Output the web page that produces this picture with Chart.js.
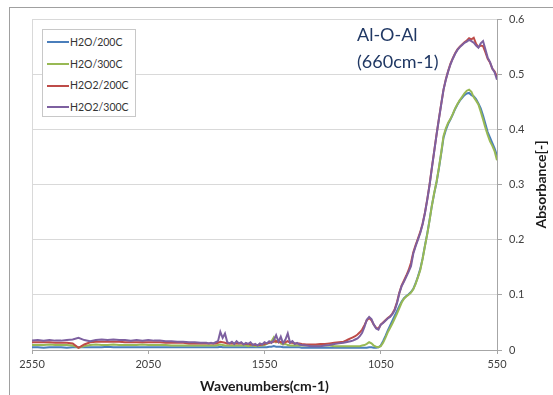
<!DOCTYPE html>
<html><head><meta charset="utf-8">
<script src="https://cdn.jsdelivr.net/npm/chart.js@4.4.1/dist/chart.umd.min.js"></script>
<style>
html,body{margin:0;padding:0;background:#fff;}
#wrap{position:relative;width:553px;height:395px;overflow:hidden;font-family:Lato,"Open Sans",sans-serif;}
#frame{position:absolute;left:9px;top:7px;width:560px;height:400px;border:1px solid #a0a0a0;box-sizing:border-box;}
canvas{position:absolute;left:0;top:0;}
#legend{position:absolute;left:42px;top:29px;width:94px;height:88px;border:1px solid #c8c8c8;background:#fff;box-sizing:border-box;}
.li{position:absolute;left:4px;height:14px;font-size:10.5px;color:#333;line-height:14px;white-space:nowrap;}
.li span.sw{display:inline-block;width:22px;height:2px;vertical-align:middle;margin-right:1px;position:relative;top:-1px;}
#note{position:absolute;left:357px;top:21px;font-size:18px;line-height:27px;color:#203864;}
</style></head>
<body>
<div id="wrap">
<div id="frame"></div>
<canvas id="c" width="553" height="395"></canvas>
<div id="legend"></div>
<div id="note">Al-O-Al<br>(660cm-1)</div>
</div>
<script>
const wavenumbers = [
2550,2525,2500,2475,2450,2425,2400,2375,2350,2325,2300,2275,2250,2225,2200,2175,2150,2125,2100,2075,2050,2025,2000,1975,1950,1925,1900,1875,1850,1825,
1800,1790,1780,1770,1760,1750,1740,1730,1720,1710,1700,1690,1680,1670,1660,1650,1640,1630,1620,1610,1600,1590,1580,1570,1560,1550,1540,1530,1520,1510,1500,1490,1480,1470,1460,1450,1440,1430,1420,1410,1400,
1390,1370,1350,1330,1310,1290,1270,1250,1230,
1210,1200,1190,1180,1170,1160,1150,1140,1130,1120,1110,1100,1090,1080,1070,1060,1050,1040,1030,1020,1010,1000,990,980,970,960,950,940,930,920,910,900,890,880,870,860,850,840,830,820,810,800,790,780,770,760,750,740,730,720,710,700,690,680,670,660,650,640,630,620,610,600,590,580,570,560,550];

const seriesNames = ["H2O/200C","H2O/300C","H2O2/200C","H2O2/300C"];
const seriesColors = ["#4A7EBB","#98B954","#BE4B48","#7D60A0"];

const h2o200 = [
0.005,0.005,0.004,0.005,0.005,0.005,0.004,0.005,0.005,0.005,0.005,0.005,0.005,0.006,0.005,0.005,0.005,0.005,0.005,0.005,0.005,0.005,0.005,0.005,0.005,0.005,0.005,0.005,0.005,0.005,
0.005,0.005,0.005,0.005,0.005,0.005,0.006,0.005,0.005,0.005,0.005,0.005,0.005,0.005,0.005,0.005,0.005,0.005,0.005,0.005,0.005,0.005,0.005,0.005,0.005,0.005,0.005,0.006,0.006,0.007,0.006,0.006,0.006,0.005,0.005,0.005,0.005,0.005,0.005,0.005,0.005,
0.004,0.004,0.004,0.004,0.004,0.004,0.004,0.004,0.004,
0.004,0.004,0.004,0.004,0.004,0.004,0.004,0.004,0.004,0.004,
0.004,0.005,0.005,0.004,0.004,0.005,0.008,0.016,0.025,0.035,
0.044,0.053,0.062,0.071,0.080,0.088,0.094,0.098,0.101,0.105,
0.111,0.121,0.133,0.147,0.166,0.189,0.211,0.236,0.262,0.284,
0.304,0.329,0.356,0.385,0.399,0.410,0.418,0.427,0.437,0.445,
0.452,0.457,0.462,0.465,0.466,0.462,0.460,0.455,0.447,0.438,
0.425,0.410,0.395,0.385,0.375,0.365,0.352];

const h2o300 = [
0.009,0.009,0.009,0.010,0.009,0.009,0.009,0.008,0.004,0.007,0.009,0.010,0.009,0.009,0.010,0.009,0.009,0.009,0.009,0.010,0.009,0.009,0.009,0.009,0.008,0.008,0.008,0.008,0.008,0.008,
0.008,0.008,0.008,0.008,0.008,0.009,0.010,0.009,0.008,0.008,0.008,0.008,0.008,0.008,0.008,0.008,0.008,0.008,0.007,0.008,0.008,0.007,0.007,0.008,0.008,
0.009,0.011,0.013,0.016,0.023,0.014,0.017,0.012,0.010,0.011,0.009,0.008,0.008,0.008,0.008,0.008,
0.008,0.008,0.008,0.008,0.008,0.008,0.008,0.007,0.007,
0.007,0.007,0.007,0.007,0.007,0.007,0.007,0.007,0.008,0.009,
0.011,0.014,0.012,0.008,0.006,0.005,0.007,0.013,0.022,0.032,
0.040,0.048,0.057,0.066,0.076,0.086,0.093,0.097,0.100,0.104,
0.110,0.120,0.132,0.145,0.165,0.188,0.210,0.235,0.262,0.285,
0.305,0.330,0.358,0.388,0.402,0.412,0.419,0.428,0.438,0.446,
0.453,0.459,0.465,0.470,0.472,0.468,0.458,0.452,0.445,0.432,
0.418,0.403,0.390,0.378,0.370,0.360,0.344];

const h2o2_200 = [
0.014,0.014,0.014,0.014,0.013,0.013,0.013,0.012,0.004,0.010,0.014,0.015,0.015,0.015,0.015,0.015,0.014,0.014,0.014,0.014,0.014,0.014,0.014,0.013,0.013,0.013,0.013,0.012,0.012,0.012,
0.012,0.012,0.012,0.012,0.012,0.013,0.015,0.014,0.013,0.012,0.012,0.012,0.012,0.012,0.012,0.012,0.011,0.011,0.011,0.010,0.010,0.009,0.009,0.009,0.010,0.011,0.012,0.013,0.014,0.015,0.016,0.014,0.015,0.013,0.014,0.016,0.013,0.013,0.012,0.012,0.012,
0.011,0.010,0.010,0.010,0.011,0.011,0.012,0.013,0.014,
0.015,0.017,0.019,0.021,0.023,0.025,0.028,0.032,0.037,0.045,
0.054,0.058,0.054,0.046,0.040,0.039,0.046,0.050,0.054,0.058,
0.061,0.066,0.074,0.087,0.104,0.117,0.126,0.135,0.145,0.158,
0.177,0.190,0.202,0.214,0.229,0.249,0.273,0.300,0.331,0.361,
0.391,0.419,0.446,0.472,0.491,0.506,0.519,0.529,0.538,0.545,
0.550,0.554,0.558,0.561,0.565,0.563,0.566,0.555,0.549,0.552,
0.551,0.540,0.528,0.521,0.510,0.505,0.495];

const h2o2_300 = [
0.017,0.018,0.017,0.018,0.017,0.017,0.018,0.019,0.022,0.018,0.016,0.018,0.019,0.018,0.019,0.018,0.018,0.017,0.018,0.017,0.018,0.017,0.017,0.016,0.016,0.015,0.015,0.014,0.014,0.013,
0.013,0.012,0.013,0.012,0.014,0.016,0.033,0.022,0.030,0.014,0.012,0.015,0.011,0.016,0.012,0.014,0.010,0.013,0.011,0.014,0.009,0.011,0.008,0.012,0.010,0.014,0.012,0.016,0.013,0.018,0.027,0.015,0.024,0.012,0.019,0.030,0.013,0.016,0.011,0.013,0.010,
0.009,0.008,0.007,0.007,0.007,0.008,0.009,0.011,0.012,
0.013,0.014,0.015,0.016,0.017,0.019,0.021,0.025,0.031,0.042,
0.055,0.060,0.056,0.046,0.039,0.037,0.046,0.049,0.053,0.057,
0.060,0.065,0.072,0.085,0.103,0.116,0.124,0.133,0.142,0.152,
0.175,0.188,0.200,0.212,0.228,0.248,0.272,0.299,0.330,0.360,
0.390,0.418,0.445,0.472,0.490,0.505,0.518,0.528,0.537,0.544,
0.549,0.553,0.557,0.559,0.562,0.560,0.557,0.552,0.548,0.556,
0.560,0.545,0.530,0.522,0.510,0.503,0.490];

const xTicks = [2550,2050,1550,1050,550];
const yTicks = [0,0.1,0.2,0.3,0.4,0.5,0.6];
const xTitle = 'Wavenumbers(cm-1)';
const yTitle = 'Absorbance[-]';

const allSeries = [h2o200,h2o300,h2o2_200,h2o2_300];
const drawOrder = [4,3,2,1];

// legend
const lg = document.getElementById('legend');
seriesNames.forEach((n,i)=>{
  const d = document.createElement('div');
  d.className='li';
  d.style.top = (5 + i*21.7)+'px';
  d.innerHTML = '<span class="sw" style="background:'+seriesColors[i]+'"></span>'+n;
  lg.appendChild(d);
});

const FONT = 'Lato, "Open Sans", sans-serif';

const yTitlePlugin = {
  id:'yTitle',
  afterDraw(chart){
    const ctx = chart.ctx, a = chart.chartArea;
    ctx.save();
    ctx.translate(chart.width - 11.5, (a.top + a.bottom)/2);
    ctx.rotate(-Math.PI/2);
    ctx.font = 'bold 14px ' + FONT;
    ctx.fillStyle = '#1a1a1a';
    ctx.textAlign = 'center';
    ctx.textBaseline = 'middle';
    ctx.fillText(yTitle, 0, 0);
    ctx.restore();
  }
};

new Chart(document.getElementById('c'), {
  type:'line',
  data:{
    datasets: allSeries.map((s,i)=>({
      label: seriesNames[i],
      data: wavenumbers.map((w,k)=>({x:w,y:s[k]})),
      borderColor: seriesColors[i],
      backgroundColor: seriesColors[i],
      borderWidth: 2,
      pointRadius: 0,
      tension: 0,
      order: drawOrder[i]
    }))
  },
  plugins:[yTitlePlugin],
  options:{
    responsive:false,
    animation:false,
    layout:{padding:{left:32,top:19,right:0,bottom:0}},
    plugins:{legend:{display:false},tooltip:{enabled:false}},
    scales:{
      x:{
        type:'linear', reverse:true, min:550, max:2550,
        afterBuildTicks: s => { s.ticks = xTicks.map(v=>({value:v})); },
        afterFit: s => { s.height = 45; },
        grid:{
          color: c => (c.tick && c.tick.value===2550) ? '#d9d9d9' : 'rgba(0,0,0,0)',
          tickColor:'#a6a6a6', tickLength:4, lineWidth:1
        },
        border:{color:'#a6a6a6'},
        ticks:{color:'#404040', font:{family:FONT,size:11}, padding:4, maxRotation:0, callback:v=>String(v)},
        title:{display:true,text:xTitle,color:'#1a1a1a',font:{family:FONT,size:14,weight:'bold'},padding:{top:0,bottom:0}}
      },
      y:{
        type:'linear', position:'right', min:0, max:0.6,
        afterBuildTicks: s => { s.ticks = yTicks.map(v=>({value:v})); },
        afterFit: s => { s.width = 56; },
        grid:{color:'#d9d9d9', tickColor:'#a6a6a6', tickLength:5},
        border:{color:'#a6a6a6'},
        ticks:{color:'#404040', font:{family:FONT,size:11}, padding:7, callback:v=>String(+v.toFixed(1))},
        title:{display:false}
      }
    }
  }
});
</script>
</body></html>
